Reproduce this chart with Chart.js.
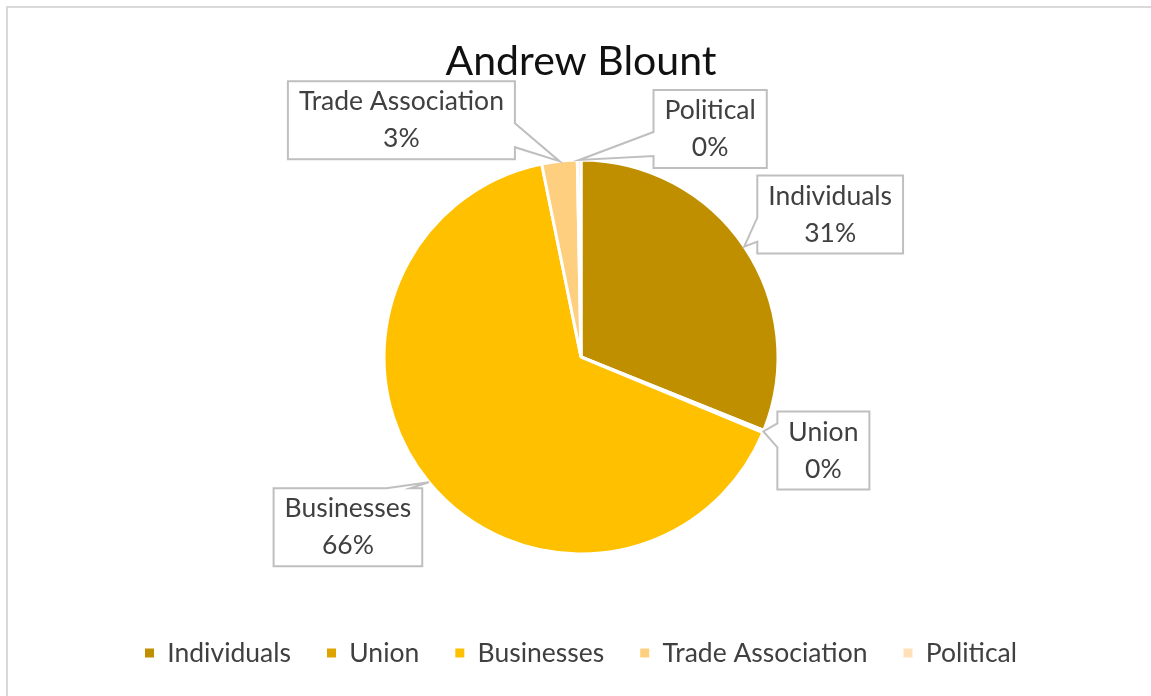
<!DOCTYPE html>
<html>
<head>
<meta charset="utf-8">
<script src="https://cdn.jsdelivr.net/npm/chart.js@4.4.0/dist/chart.umd.min.js"></script>
<style>
  html, body { margin: 0; padding: 0; background: #fff; overflow: hidden; }
  #frame { position: absolute; left: 6px; top: 6px; width: 1170px; height: 720px; border: 2px solid #d9d9d9; }
  #wrap { position: absolute; left: 0; top: 0; width: 1151px; height: 696px; }
</style>
</head>
<body>
<div id="frame"></div>
<div id="wrap"><canvas id="c"></canvas></div>
<script>
/* dados */
const chartTitle = 'Andrew Blount';
const categories = ['Individuals', 'Union', 'Businesses', 'Trade Association', 'Political'];
const shares = [31.1, 0.2, 65.6, 2.9, 0.3];
const sliceColors = ['#BF8F00', '#DEA500', '#FFC000', '#FFCF80', '#FFE0B8'];

// deslocamento da caixa (centro) em relação ao ponto de ancoragem na borda do arco
const calloutOffsets = [[86, -32], [60, 19], [-81, 45], [-158, -41], [131, -31]];

const FONT_FAMILY = "Lato, 'Open Sans', sans-serif";
const LABEL_SIZE = 26.5;

const total = shares.reduce((a, b) => a + b, 0);
const percentLabels = shares.map(v => Math.round(v / total * 100) + '%');

function drawCallout(ctx, bx, by, w, h, tx, ty) {
  const cx = bx + w / 2, cy = by + h / 2;
  const nx = (tx - cx) / (w / 2), ny = (ty - cy) / (h / 2);
  const TL = [bx, by], TR = [bx + w, by], BR = [bx + w, by + h], BL = [bx, by + h];
  const base = 24, m = 12;
  const clamp = (v, a, b) => Math.max(a, Math.min(b, v));
  let poly;
  if (Math.abs(nx) >= Math.abs(ny)) {
    const c = clamp(ty, by + m + base / 2, by + h - m - base / 2);
    if (nx > 0) poly = [TL, TR, [bx + w, c - base / 2], [tx, ty], [bx + w, c + base / 2], BR, BL];
    else poly = [TL, TR, BR, BL, [bx, c + base / 2], [tx, ty], [bx, c - base / 2]];
  } else {
    const c = clamp(tx, bx + m + base / 2, bx + w - m - base / 2);
    if (ny > 0) poly = [TL, TR, BR, [c + base / 2, by + h], [tx, ty], [c - base / 2, by + h], BL];
    else poly = [TL, [c - base / 2, by], [tx, ty], [c + base / 2, by], TR, BR, BL];
  }
  ctx.beginPath();
  poly.forEach((p, i) => i ? ctx.lineTo(p[0], p[1]) : ctx.moveTo(p[0], p[1]));
  ctx.closePath();
  ctx.fillStyle = '#ffffff';
  ctx.fill();
  ctx.lineWidth = 2;
  ctx.strokeStyle = '#BFBFBF';
  ctx.stroke();
}

const calloutPlugin = {
  id: 'callouts',
  afterDatasetsDraw(chart) {
    const ctx = chart.ctx;
    const meta = chart.getDatasetMeta(0);
    ctx.save();
    ctx.font = LABEL_SIZE + 'px ' + FONT_FAMILY;
    meta.data.forEach((arc, i) => {
      const p = arc.getProps(['x', 'y', 'startAngle', 'endAngle', 'outerRadius'], true);
      const mid = (p.startAngle + p.endAngle) / 2;
      const tx = p.x + Math.cos(mid) * p.outerRadius;
      const ty = p.y + Math.sin(mid) * p.outerRadius;
      const lines = [categories[i], percentLabels[i]];
      const w = Math.max(...lines.map(l => ctx.measureText(l).width)) + 22;
      const h = 78;
      const cx = tx + calloutOffsets[i][0];
      const cy = ty + calloutOffsets[i][1];
      drawCallout(ctx, cx - w / 2, cy - h / 2, w, h, tx, ty);
      ctx.fillStyle = '#404040';
      ctx.textAlign = 'center';
      ctx.textBaseline = 'middle';
      ctx.fillText(lines[0], cx, cy - 18.5);
      ctx.fillText(lines[1], cx, cy + 18.5);
    });
    ctx.restore();
  }
};

new Chart(document.getElementById('c'), {
  type: 'pie',
  data: {
    labels: categories,
    datasets: [{
      data: shares,
      backgroundColor: sliceColors,
      borderColor: '#ffffff',
      borderWidth: 3,
      radius: 197,
      hoverOffset: 0
    }]
  },
  options: {
    responsive: true,
    maintainAspectRatio: false,
    animation: false,
    layout: { padding: { left: 11, right: 0, top: 0, bottom: 19.75 } },
    plugins: {
      title: {
        display: true,
        text: chartTitle,
        color: '#111111',
        font: { family: FONT_FAMILY, size: 41, weight: 'normal' },
        padding: { top: 37.4, bottom: 23.65 }
      },
      legend: {
        position: 'bottom',
        labels: {
          boxWidth: 9,
          boxHeight: 9,
          padding: 36,
          color: '#404040',
          font: { family: FONT_FAMILY, size: LABEL_SIZE },
          generateLabels(chart) {
            return Chart.overrides.pie.plugins.legend.labels.generateLabels(chart)
              .map(l => Object.assign(l, { lineWidth: 0, strokeStyle: 'rgba(0,0,0,0)' }));
          }
        }
      },
      tooltip: { enabled: false }
    }
  },
  plugins: [calloutPlugin]
});
</script>
</body>
</html>
